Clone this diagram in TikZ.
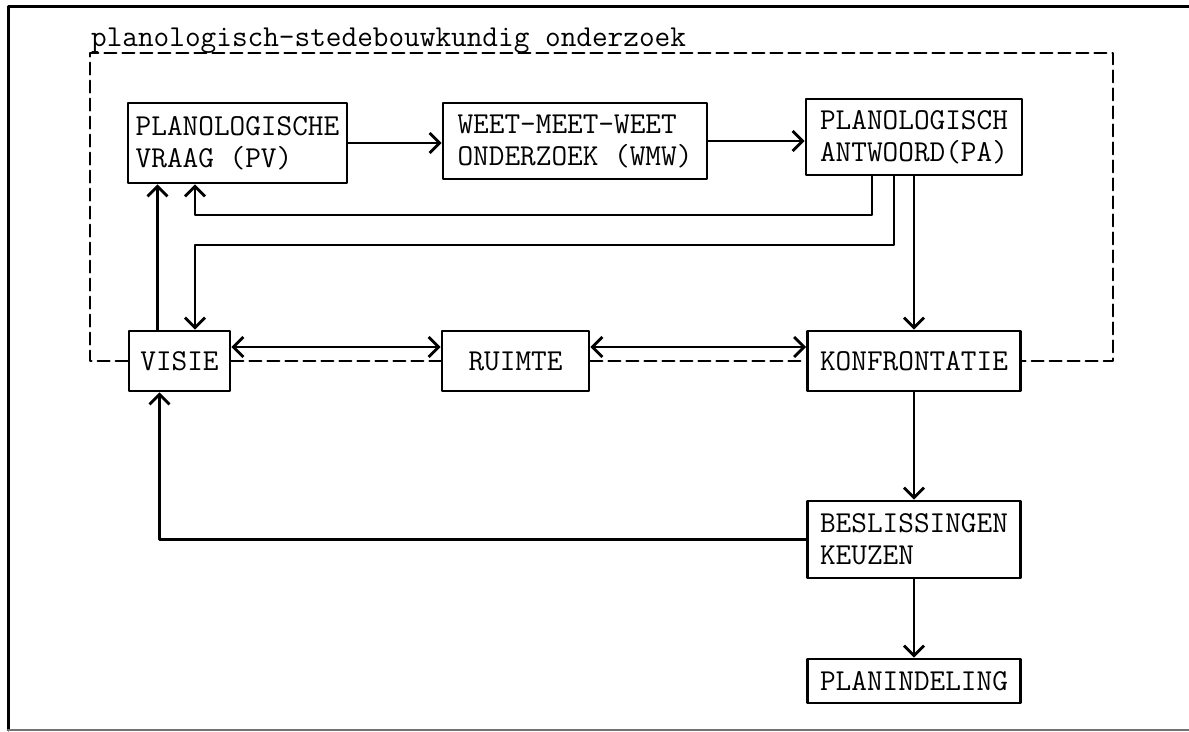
\documentclass[tikz,border=0pt]{standalone}
\usetikzlibrary{arrows.meta}
\tikzset{
    vak/.style={draw,line width=1.4pt,inner sep=0pt,align=left},
    stippel/.style={line width=1.1pt,dash pattern=on 6pt off 3pt}
}
\begin{document}
\begin{tikzpicture}[x=0.5pt,y=-0.5pt,>={Straight Barb[length=5pt,width=10pt,line width=1.4pt]},line join=round,line cap=round,line width=1.1pt,font=\fontsize{15.2}{16}\selectfont\ttfamily]
            \useasboundingbox (0,0) rectangle (1189,732);
            \draw[line width=1.5pt] (1189,7)--(8,7)--(8,730);
            \draw[line width=1.2pt,black!55] (8,730)--(1189,730);
            \node[anchor=base west,inner sep=0pt] (titel) at (90,47) {planologisch-stedebouwkundig onderzoek};
            \node[vak,minimum width=109.5pt,minimum height=40pt] (PV) at (237.5,143) {PLANOLOGISCHE\\VRAAG (PV)};
            \node[vak,minimum width=132pt,minimum height=38pt] (WMW) at (575,141) {WEET-MEET-WEET\\ONDERZOEK (WMW)};
            \node[vak,minimum width=108pt,minimum height=38pt] (PA) at (914,137) {PLANOLOGISCH\\ANTWOORD(PA)};
            \node[vak,minimum width=50.5pt,minimum height=30pt] (V) at (179.5,361) {VISIE};
            \node[vak,minimum width=73.5pt,minimum height=30pt] (R) at (515.5,361) {RUIMTE};
            \node[vak,minimum width=106.5pt,minimum height=30pt] (K) at (914,361) {KONFRONTATIE};
            \node[vak,minimum width=106.5pt,minimum height=38.5pt] (B) at (914,539.5) {BESLISSINGEN\\KEUZEN};
            \node[vak,minimum width=106.5pt,minimum height=22pt] (P) at (914,681) {PLANINDELING};
            \coordinate (s1) at (90,53);
            \coordinate (s2) at (1113,53);
            \coordinate (r1) at (195,215);
            \coordinate (r2) at (195,245);
            \draw[stippel] (V.west)-|(s1)--(s2)|-(K.east);
            \foreach \a/\b in {V/R,R/K} \draw[stippel] (\a)--(\b);
            \foreach \a/\b in {V/R,R/K} \draw[<->] ([yshift=7pt]\a.east)--([yshift=7pt]\b.west);
            \draw[->] (PV.east)--(PV.east-|WMW.west);
            \draw[->] (WMW.east)--(WMW.east-|PA.west);
            \draw[->] ([xshift=-21pt]PA.south)|-(r1)--(r1|-PV.south);
            \draw[->] ([xshift=-10pt]PA.south)|-(r2)--(r2|-V.north);
            \draw[->] ([xshift=-11pt]V.north)--([xshift=-11pt]V.north|-PV.south);
            \draw[->] (B.west)-|([xshift=-10pt]V.south);
            \foreach \a/\b in {PA/K,K/B,B/P} \draw[->] (\a)--(\b);
    \end{tikzpicture}
\end{document}
